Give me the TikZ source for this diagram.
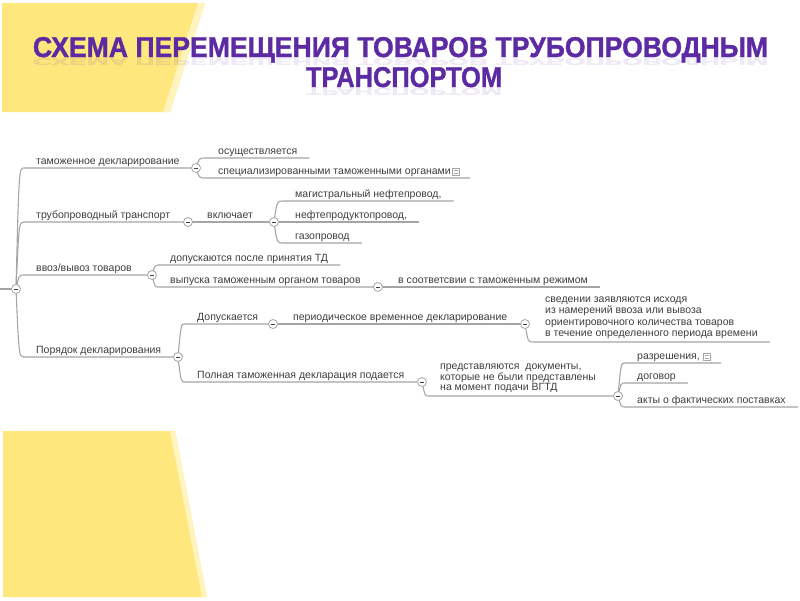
\documentclass[tikz,border=0pt]{standalone}
\usepackage{fontspec}
\setmainfont{Liberation Sans}
\newfontfamily\ttlfont{Liberation Sans}[BoldFeatures={FakeBold=1.3}]
\usepackage{graphicx}
\pgfdeclarelayer{bg}
\pgfsetlayers{bg,main}
\definecolor{yel}{RGB}{254,231,124}
\definecolor{yellight}{RGB}{255,244,190}
\definecolor{ttl}{RGB}{92,42,162}
\definecolor{lnc}{RGB}{165,165,165}
\definecolor{txc}{RGB}{62,62,62}
\tikzset{
  conn/.style={draw=lnc, line width=1.1pt},
  topic/.style={anchor=south west, inner xsep=12pt, inner ysep=0pt, text depth=3pt, text=txc,
    font=\fontsize{10.5}{11.5}\selectfont},
  mtopic/.style={topic, text depth=5pt},
  coll/.style={circle, draw=lnc, fill=white, inner sep=0pt, minimum size=9pt, line width=0.8pt,
    path picture={\draw[txc, line width=0.9pt]
      ([xshift=-2.2pt]path picture bounding box.center) -- ([xshift=2.2pt]path picture bounding box.center);}},
  noteicon/.style={rectangle, draw=lnc, fill=white, minimum size=7pt, inner sep=0pt, line width=0.6pt,
    path picture={\draw[lnc, line width=0.6pt]
      ([shift={(-2pt,-1.3pt)}]path picture bounding box.center) -- ([shift={(2pt,-1.3pt)}]path picture bounding box.center)
      ([shift={(-2pt,1.3pt)}]path picture bounding box.center) -- ([shift={(2pt,1.3pt)}]path picture bounding box.center);}},
  ttlstyle/.style={anchor=base, inner sep=0pt, text=ttl, font=\ttlfont\bfseries},
  reflstyle/.style={anchor=base, inner sep=0pt, text=ttl, font=\ttlfont\bfseries, opacity=0.09},
}
\newcommand{\mycurve}[2]{([xshift=3pt]#1.center |- #2.south west)}
\begin{document}
\begin{tikzpicture}[x=1pt, y=-1pt]
\useasboundingbox (0,0) rectangle (800,600);
% decorative yellow shapes
\begin{pgfonlayer}{bg}
\fill[yel] (2,3) -- (205,3) -- (170,112) -- (2,112) -- cycle;
\fill[yellight] (198,3) -- (205,3) -- (170,112) -- (163,112) -- cycle;
\fill[yel] (3,431) -- (175,431) -- (207,597) -- (3,597) -- cycle;
\fill[yellight] (170,431) -- (175,431) -- (207,597) -- (202,597) -- cycle;
\end{pgfonlayer}
% title
\node[ttlstyle] (ttl1) at (400.5,57) {\resizebox{735pt}{20pt}{СХЕМА ПЕРЕМЕЩЕНИЯ ТОВАРОВ ТРУБОПРОВОДНЫМ}};
\node[reflstyle] (ttl1r) at (400.5,58) {\scalebox{1}[-0.35]{\resizebox{735pt}{20pt}{СХЕМА ПЕРЕМЕЩЕНИЯ ТОВАРОВ ТРУБОПРОВОДНЫМ}}};
\node[ttlstyle] (ttl2) at (404,87) {\resizebox{196pt}{20pt}{ТРАНСПОРТОМ}};
\node[reflstyle] (ttl2r) at (404,88) {\scalebox{1}[-0.35]{\resizebox{196pt}{20pt}{ТРАНСПОРТОМ}}};

% root
\coordinate (rootin) at (0,289);
\node[coll] (R) at (16,289) {};
% level 1
\node[topic] (T1) at (24,168) {таможенное декларирование};
\node[topic] (T2) at (24,222) {трубопроводный транспорт};
\node[topic] (T3) at (24,275) {ввоз/вывоз товаров};
\node[topic] (T4) at (24,357) {Порядок декларирования};
\node[coll] (C1) at (196,168) {};
\node[coll] (C2) at (188,222) {};
\node[coll] (C3) at (152,275) {};
\node[coll] (C4) at (178,357) {};
% branch 1
\node[topic] (T11) at (206,158) {осуществляется};
\node[topic] (T12) at (206,178) {специализированными таможенными органами};
\node[noteicon] (N1) at (456,172) {};
% branch 2
\node[topic] (T21) at (195,222) {включает};
\node[coll] (C2b) at (274,222) {};
\node[topic] (T211) at (283,201) {магистральный нефтепровод,};
\node[topic] (T212) at (283,222) {нефтепродуктопровод,};
\node[topic] (T213) at (283,243) {газопровод};
% branch 3
\node[topic] (T31) at (158,265) {допускаются после принятия ТД};
\node[topic] (T32) at (158,287) {выпуска таможенным органом товаров};
\node[coll] (C3b) at (378,287) {};
\node[topic] (T321) at (386,287) {в соответсвии с таможенным режимом};
% branch 4
\node[topic] (T41) at (185,324) {Допускается};
\node[coll] (C4a) at (273,324) {};
\node[topic] (T411) at (281,324) {периодическое временное декларирование};
\node[coll] (C4a2) at (525,324) {};
\node[mtopic] (T4111) at (533,342) {\begin{tabular}[b]{@{}l@{}}сведении заявляются исходя\\из намерений ввоза или вывоза\\ориентировочного количества товаров\\в течение определенного периода времени\end{tabular}};
\node[topic] (T42) at (185,382) {Полная таможенная декларация подается};
\node[coll] (C4b) at (422,382) {};
\node[mtopic, font=\fontsize{10.5}{10.8}\selectfont] (T421) at (428,396) {\begin{tabular}[b]{@{}l@{}}представляются\ \ документы,\\которые не были представлены\\на момент подачи ВГТД\end{tabular}};
\node[coll] (C4b2) at (618,396) {};
\node[topic] (T4211) at (625,363) {разрешения,};
\node[noteicon] (N2) at (707,357) {};
\node[topic] (T4212) at (625,383) {договор};
\node[topic] (T4213) at (625,407) {акты о фактических поставках};

% connectors
\begin{pgfonlayer}{bg}
\draw[conn] (rootin) -- (R.center);
\draw[conn] (R.center) .. controls \mycurve{R}{T1} .. (T1.south west) -- (C1.center);
\draw[conn] (R.center) .. controls \mycurve{R}{T2} .. (T2.south west) -- (C2.center);
\draw[conn] (R.center) .. controls \mycurve{R}{T3} .. (T3.south west) -- (C3.center);
\draw[conn] (R.center) .. controls \mycurve{R}{T4} .. (T4.south west) -- (C4.center);
% 1
\draw[conn] (C1.center) .. controls \mycurve{C1}{T11} .. (T11.south west) -- (T11.south east);
\draw[conn] (C1.center) .. controls \mycurve{C1}{T12} .. (T12.south west) -- ([xshift=10pt]N1.east |- T12.south);
% 2
\draw[conn] (C2.center) -- (T21.south west) -- (C2b.center);
\draw[conn] (C2b.center) .. controls \mycurve{C2b}{T211} .. (T211.south west) -- (T211.south east);
\draw[conn] (C2b.center) -- (T212.south west) -- (T212.south east);
\draw[conn] (C2b.center) .. controls \mycurve{C2b}{T213} .. (T213.south west) -- (T213.south east);
% 3
\draw[conn] (C3.center) .. controls \mycurve{C3}{T31} .. (T31.south west) -- (T31.south east);
\draw[conn] (C3.center) .. controls \mycurve{C3}{T32} .. (T32.south west) -- (C3b.center);
\draw[conn] (C3b.center) -- (T321.south west) -- (T321.south east);
% 4
\draw[conn] (C4.center) .. controls \mycurve{C4}{T41} .. (T41.south west) -- (C4a.center);
\draw[conn] (C4a.center) -- (T411.south west) -- (C4a2.center);
\draw[conn] (C4a2.center) .. controls \mycurve{C4a2}{T4111} .. (T4111.south west) -- (T4111.south east);
\draw[conn] (C4.center) .. controls \mycurve{C4}{T42} .. (T42.south west) -- (C4b.center);
\draw[conn] (C4b.center) .. controls \mycurve{C4b}{T421} .. (T421.south west) -- (C4b2.center);
\draw[conn] (C4b2.center) .. controls \mycurve{C4b2}{T4211} .. (T4211.south west) -- ([xshift=10pt]N2.east |- T4211.south);
\draw[conn] (C4b2.center) .. controls \mycurve{C4b2}{T4212} .. (T4212.south west) -- (T4212.south east);
\draw[conn] (C4b2.center) .. controls \mycurve{C4b2}{T4213} .. (T4213.south west) -- (T4213.south east);
\end{pgfonlayer}
\end{tikzpicture}
\end{document}
